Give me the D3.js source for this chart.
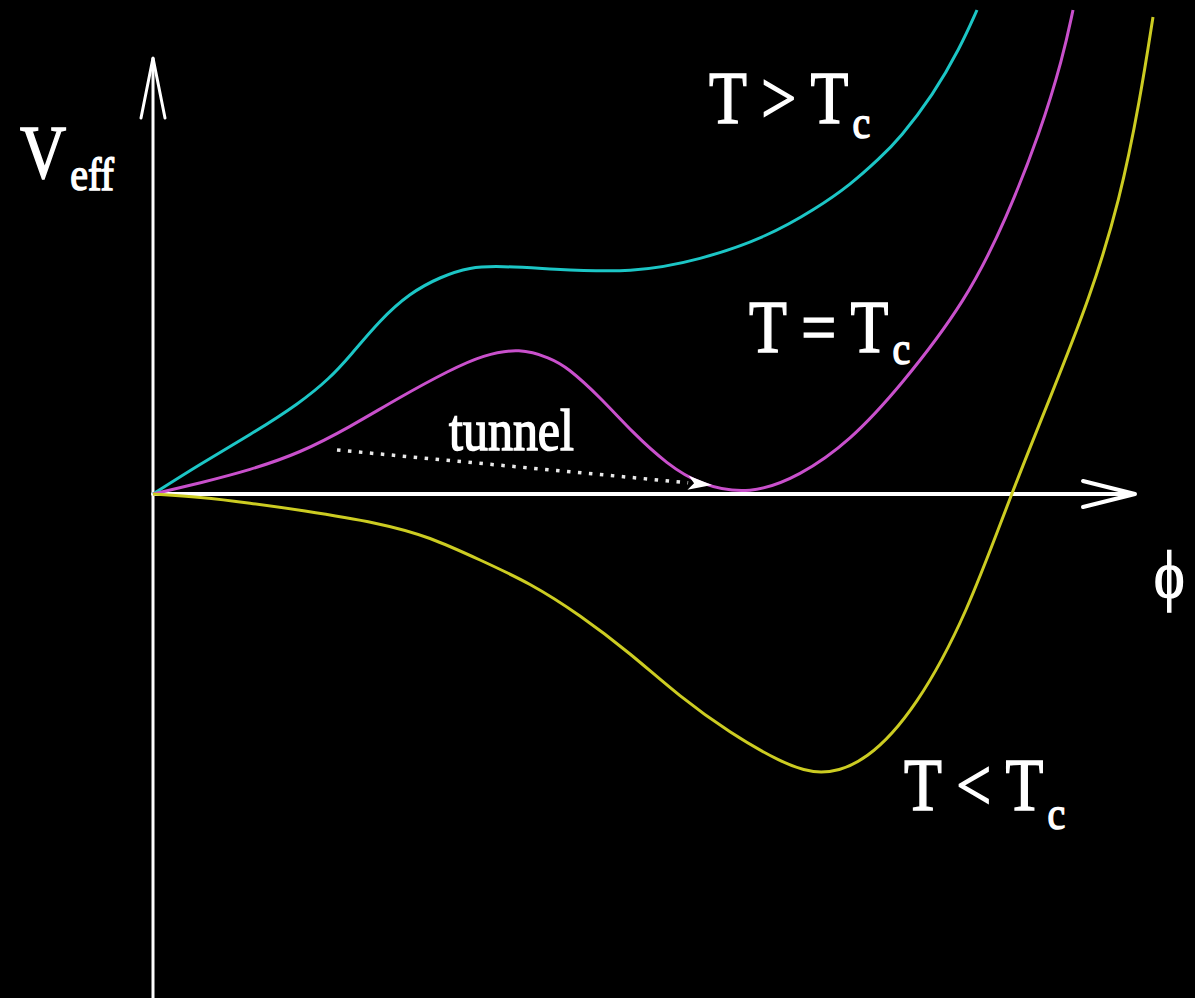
<!DOCTYPE html>
<html>
<head>
<meta charset="utf-8">
<script src="https://cdn.jsdelivr.net/npm/d3@7"></script>
<style>
  html, body { margin: 0; padding: 0; background: #000; }
  svg { display: block; }
  .lbl { font-family: "Liberation Serif", Tinos, "Times New Roman", "DejaVu Serif", serif; }
</style>
</head>
<body>
<script>
// curves: [phi, V] in arbitrary units (origin at axes crossing)
var cyan_pts = [[0,0],[4.7,3.0],[9.7,5.9],[14.7,9.1],[17.7,11.6],[19.7,13.8],[22.7,17.4],[25.7,20.1],
  [28.7,21.7],[31.7,22.7],[34.7,22.8],[39.7,22.5],[48.0,22.1],[54.7,23.4],[61.4,25.7],[66.4,28.6],
  [69.7,30.9],[72.7,33.6],[74.7,35.6],[78.0,39.9],[80.7,44.6],[82.4,48.4]]
var magenta_pts = [[0,0],[4.7,1.1],[9.7,2.4],[14.7,4.1],[19.7,6.7],[24.7,9.7],[29.7,12.4],[33.0,13.9],
  [36.7,14.6],[39.7,13.6],[41.4,12.7],[44.7,9.7],[48.0,6.1],[51.4,3.0],[54.7,0.9],[59.7,-0.1],
  [64.7,1.8],[69.7,5.3],[74.7,10.7],[81.4,19.4],[85.4,27.7],[88.7,36.1],[91.0,43.7],[92.0,48.4]]
var yellow_pts = [[0,0],[4.7,-0.3],[9.7,-0.9],[14.7,-1.6],[22.7,-2.9],[27.7,-4.3],[32.7,-6.6],[37.7,-8.9],
  [42.7,-12.1],[47.7,-15.9],[52.7,-20.3],[57.7,-23.9],[62.7,-26.8],[66.7,-28.3],[71.4,-26.8],
  [76.4,-21.3],[81.4,-12.0],[85.7,-0.3],[89.7,9.6],[93.7,19.6],[96.7,29.4],[98.7,39.4],[100.0,47.7]]
var tunnel_arrow = [[18.4,4.4],[55.9,0.9]]
var series_labels = ["T > T", "T = T", "T < T"]
var series_colors = ["#1cc6c6", "#c950cc", "#cccc22"]

var width = 1195
var height = 998

var x = d3.scaleLinear().domain([0,100]).range([153,1153])
var y = d3.scaleLinear().domain([0,40]).range([494,94])

var svg = d3.select("body").append("svg")
  .attr("width", width)
  .attr("height", height)

svg.append("rect").attr("width", width).attr("height", height).attr("fill", "#000")

var line = d3.line()
  .x(function(d){return x(d[0])})
  .y(function(d){return y(d[1])})
  .curve(d3.curveBasis)

// axes
var axes = svg.append("g").attr("stroke", "#fff").attr("fill", "none").attr("stroke-linecap", "round")
axes.append("line").attr("x1", x(0)).attr("x2", x(0)).attr("y1", height).attr("y2", y(43.6)).attr("stroke-width", 3)
axes.append("path")
  .attr("d", "M" + (x(0)-12) + "," + (y(43.6)+60) + "L" + x(0) + "," + y(43.6) + "L" + (x(0)+12) + "," + (y(43.6)+60))
  .attr("stroke-width", 3).attr("stroke-linejoin", "miter")
axes.append("line").attr("x1", x(0)).attr("x2", x(98.2)).attr("y1", y(0)).attr("y2", y(0)).attr("stroke-width", 4)
axes.append("path")
  .attr("d", "M" + (x(98.2)-52) + "," + (y(0)-13) + "L" + x(98.2) + "," + y(0) + "L" + (x(98.2)-52) + "," + (y(0)+13))
  .attr("stroke-width", 4).attr("stroke-linejoin", "miter")

// curves
var curves = [cyan_pts, magenta_pts, yellow_pts]
svg.append("g").selectAll("path")
  .data(curves)
  .enter()
  .append("path")
  .attr("d", function(d){return line(d)})
  .attr("fill", "none")
  .attr("stroke", function(d,i){return series_colors[i]})
  .attr("stroke-width", 3)

// tunnel arrow (dotted)
var ta = tunnel_arrow.map(function(d){return [x(d[0]), y(d[1])]})
var ang = Math.atan2(ta[1][1]-ta[0][1], ta[1][0]-ta[0][0])
var headLen = 24
var bx = ta[1][0] - headLen*Math.cos(ang), by = ta[1][1] - headLen*Math.sin(ang)
svg.append("line")
  .attr("x1", ta[0][0]).attr("y1", ta[0][1]).attr("x2", bx).attr("y2", by)
  .attr("stroke", "#e8e8e8").attr("stroke-width", 3.5).attr("stroke-dasharray", "3.5,7.5")
svg.append("path")
  .attr("d", "M" + ta[1][0] + "," + ta[1][1]
    + "L" + (bx + 7*Math.sin(ang)) + "," + (by - 7*Math.cos(ang))
    + "L" + (bx + 6*Math.cos(ang)) + "," + (by + 6*Math.sin(ang))
    + "L" + (bx - 7*Math.sin(ang)) + "," + (by + 7*Math.cos(ang)) + "Z")
  .attr("fill", "#fff")

// labels
function label(px, py, main, sub, size, subSize, subDy)
{
  var g = svg.append("g").attr("transform", "translate(" + px + "," + py + ") scale(1,1.18)")
  var t = g.append("text")
    .attr("class", "lbl")
    .attr("font-size", size)
    .attr("fill", "#fff").attr("stroke", "#fff").attr("stroke-width", 1.3)
  t.append("tspan").text(main)
  if (sub) t.append("tspan").attr("font-size", subSize).attr("dx", 4).attr("dy", subDy).text(sub)
  return t
}

label(20, 178, "V", "eff", 64, 40, 10)
label(709, 123, series_labels[0], "c", 62, 40, 13)
label(749, 352, series_labels[1], "c", 62, 40, 10)
label(904, 810, series_labels[2], "c", 62, 40, 16)
label(449, 450, "tunnel", null, 50)
label(1154, 598, "ϕ", null, 58)
</script>
</body>
</html>
